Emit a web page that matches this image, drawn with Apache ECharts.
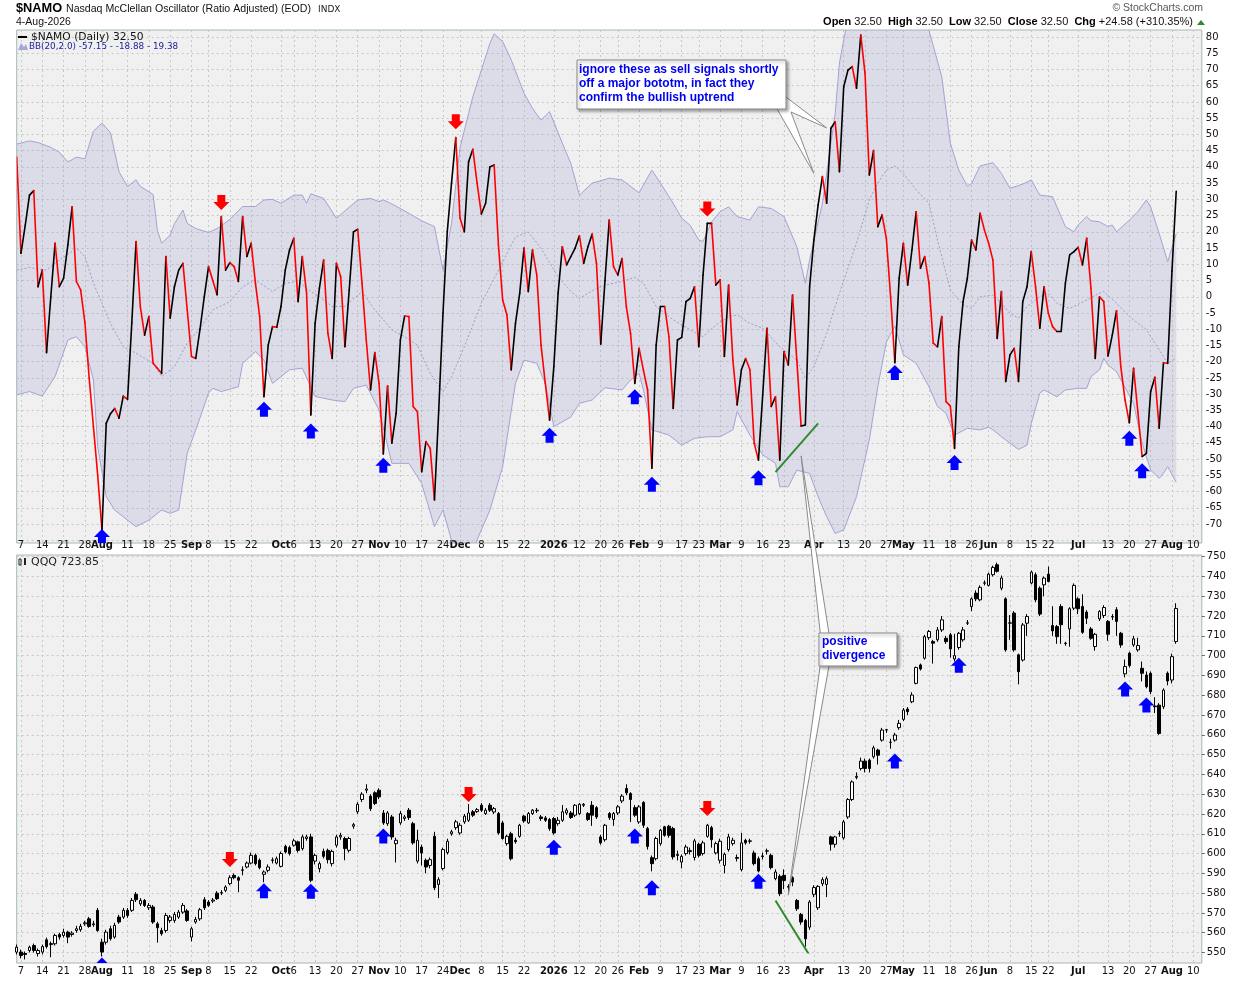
<!DOCTYPE html>
<html>
<head>
<meta charset="utf-8">
<script src="https://cdn.jsdelivr.net/npm/echarts@6/dist/echarts.min.js"></script>
<style>
html, body { margin: 0; padding: 0; background: #fff; }
#chart { width: 1240px; height: 982px; }
</style>
</head>
<body>
<div id="chart"></div>
<script>
// trading days, Jul 3 2025 .. Aug 12 2026 (axis runs a few days past the last bar)
var holidays = ['2025-07-04', '2025-09-01', '2025-11-27', '2025-12-25', '2026-01-01', '2026-01-19',
	'2026-02-16', '2026-04-03', '2026-05-25', '2026-06-19', '2026-07-03'];
var days = [];
var dd = new Date(Date.UTC(2025, 6, 3));
while (dd.getTime() <= Date.UTC(2026, 7, 12)) {
	let wd = dd.getUTCDay();
	let s = dd.toISOString().slice(0, 10);
	if (wd != 0 && wd != 6 && holidays.indexOf(s) < 0) days.push(s);
	dd.setUTCDate(dd.getUTCDate() + 1);
}

var tickDates = ['2025-07-07', '2025-07-14', '2025-07-21', '2025-07-28', '2025-08-01', '2025-08-11', '2025-08-18',
	'2025-08-25', '2025-09-02', '2025-09-08', '2025-09-15', '2025-09-22', '2025-10-01', '2025-10-06', '2025-10-13',
	'2025-10-20', '2025-10-27', '2025-11-03', '2025-11-10', '2025-11-17', '2025-11-24', '2025-12-01', '2025-12-08',
	'2025-12-15', '2025-12-22', '2026-01-02', '2026-01-12', '2026-01-20', '2026-01-26', '2026-02-02', '2026-02-09',
	'2026-02-17', '2026-02-23', '2026-03-02', '2026-03-09', '2026-03-16', '2026-03-23', '2026-04-01', '2026-04-13',
	'2026-04-20', '2026-04-27', '2026-05-01', '2026-05-11', '2026-05-18', '2026-05-26', '2026-06-01', '2026-06-08',
	'2026-06-15', '2026-06-22', '2026-07-01', '2026-07-13', '2026-07-20', '2026-07-27', '2026-08-03', '2026-08-10'];
var tickText = ['7', '14', '21', '28', 'Aug', '11', '18', '25', 'Sep', '8', '15', '22', 'Oct', '6', '13', '20', '27',
	'Nov', '10', '17', '24', 'Dec', '8', '15', '22', '2026', '12', '20', '26', 'Feb', '9', '17', '23', 'Mar', '9', '16',
	'23', 'Apr', '13', '20', '27', 'May', '11', '18', '26', 'Jun', '8', '15', '22', 'Jul', '13', '20', '27', 'Aug', '10'];

// $NAMO daily close (index 0 = Jul 3 2025)
var namo = [
	43, 13.4, 22, 31.3, 32.7, 3.1, 8.2, -17.2, 0, 16.5,
	3.1, 5.7, 16, 27.7, 4.7, 2.1, -8, -25, -40, -55,
	-71.8, -39, -36, -34.4, -37.4, -30.6, -31.6, -8, 17, -3,
	-11.8, -6.1, -20.5, -22, -23.6, 12.4, -6.6, 3.1, 8.2, 10.3,
	-4, -18.4, -19, -10, 0, 9.3, 5, 0.6, 24.7, 8.2,
	10.5, 9.3, 4.7, 24.7, 12.4, 16.5, 4.2, -6.1, -30.8, -14.9,
	-9.2, -9.4, -3, 8.2, 14.4, 18, -1.5, 12.4, 1.1, -36.4,
	-8.2, 2.6, 11.3, -11.3, -19, 10.3, 6.2, -15.4, 2.1, 20,
	20.8, 4.2, -13.3, -28.7, -17.2, -26.7, -48.4, -27.5, -45.1, -35.9,
	-13.3, -5.9, -6.1, -33.8, -35.4, -53.9, -44.6, -46.7, -62.6, -35,
	-5, 20, 35, 49, 24.2, 20, 41.6, 45.4, 35, 25.5,
	28.8, 40, 40.6, 16, -1, -5.6, -22.5, -8.2, 1.1, 15,
	1.6, 14.4, 6.7, -14.9, -26.7, -38, -21.5, 1.1, 15.4, 9.8,
	12.4, 15, 18.8, 10.3, 15.4, 19.3, 10.3, -14.6, 5, 23.6,
	9.3, 6.7, 11.8, -3, -11.3, -26.7, -15.9, -22.5, -28.7, -52.8,
	-14.9, -3, -3, -12.3, -34.4, -13.3, -12.5, -1.5, -0.5, 3.1,
	-15.4, 6.7, 22.6, 22.6, 3.6, 5.2, -18.4, 3.6, -19.5, -33.3,
	-22.5, -19, -22.5, -45.1, -50.3, -30.2, -9.7, -33.8, -30.8, -50.3,
	-16.9, -21, 0.5, -19.5, -39.8, -39.5, 3.1, 17.5, 28.3, 37,
	28.8, 51.9, 53.9, 38.5, 64.7, 69.8, 70.9, 64.2, 80.6, 68.8,
	37.5, 45, 21.6, 25.2, 18, 0, -20.3, 5.7, 16.5, 3.6,
	14.4, 26.2, 8.8, 12.4, 4.2, -14.3, -15.4, -6.1, -32.3, -33.6,
	-46.7, -15.4, -1.5, 5.7, 17.5, 14.4, 25.7, 20.6, 16.5, 11.3,
	-12.8, 1.6, -26.1, -17.9, -15.9, -26.1, -1.5, 3.1, 13.9, 3.1,
	-9.7, 3.1, -5.1, -9.2, -10.7, -10.7, 4.2, 12.9, 13.9, 15.2,
	9.8, 18, 2.6, -19, 0, -1.5, -18.2, -11.8, -4.3, -21.5,
	-31.8, -38.8, -22, -35.4, -49.2, -48.2, -29.2, -24.8, -40.5, -20.3,
	-20.5, 7.9, 32.5
];

// BB(20,2.0) as [day index, value]
var bbUpper = [[0, 47], [3, 48], [5, 47.5], [8, 46], [10, 44.5], [12, 41.5], [14, 43], [16, 42.5], [18, 51], [20, 53.5],
	[22, 50.5], [24, 38.5], [26, 34], [28, 36], [29, 34], [32, 31.5], [33, 20.5], [34, 16.5], [36, 19], [37, 22.5],
	[39, 26.7], [40, 22.6], [42, 21], [45, 19.8], [47, 21], [50, 23.8], [53, 27.8], [56, 27.8], [58, 29.8], [60, 30],
	[62, 28.8], [65, 31.3], [67, 31.3], [68, 28.8], [69, 31.7], [72, 30.3], [75, 24.2], [80, 29.8], [83, 30.3],
	[85, 29.3], [86, 29.8], [88, 28.6], [92, 25.7], [95, 23.4], [98, 21.6], [100, 8.2], [102, 22.6], [104, 46],
	[107, 61.6], [109, 69.8], [111, 78], [112, 81], [114, 78.6], [116, 73], [119, 62.7], [121, 58], [123, 54.4],
	[125, 57], [128, 47.3], [130, 41], [132, 31.3], [135, 35], [139, 36.5], [142, 36], [146, 32], [147, 34.4],
	[149, 39], [151, 35], [154, 28.8], [156, 24.2], [158, 22], [160, 17.5], [161, 17], [163, 23], [165, 26.2],
	[167, 27.7], [169, 24.7], [172, 23.6], [174, 27.7], [177, 27.2], [180, 24.7], [183, 15.4], [185, 4.2],
	[186, 11.3], [189, 28.8], [192, 56.5], [193, 72], [195, 86], [198, 92], [202, 94], [206, 92], [210, 88],
	[214, 82], [217, 67.8], [219, 47.3], [221, 39], [223, 34.1], [224, 34.9], [226, 40.3], [229, 41.3], [231, 38],
	[233, 33.4], [236, 34.7], [238, 36], [240, 31.3], [243, 30.8], [246, 21.6], [248, 20], [249, 22.1], [251, 24.7],
	[252, 23.4], [254, 23.1], [256, 21.6], [257, 22.1], [258, 20], [261, 23.6], [263, 26.2], [265, 29.8], [266, 27.7],
	[268, 19.5], [270, 10.8], [272, 19.38]];
var bbMiddle = [[0, 8.2], [3, 9], [7, 8.2], [10, 11.3], [14, 14.9], [16, 12.4], [18, 4.2], [20, -2], [22, -8.2],
	[25, -15.4], [28, -17.4], [32, -20.5], [34, -24.6], [37, -21.5], [40, -14.3], [43, -9.7], [46, -4], [50, -1.5],
	[53, 3.1], [56, 5.2], [60, 1.6], [63, 4.2], [66, 4.7], [69, 1.6], [71, 0], [74, -3], [77, -3], [81, 1.6], [84, -4],
	[88, -10.2], [91, -12.3], [94, -14.9], [97, -23.6], [100, -29.2], [102, -24.6], [105, -15.4], [109, -2], [113, 8.2],
	[117, 18.4], [120, 20], [123, 14.9], [127, 6.2], [130, 1.6], [132, -0.5], [136, 2.6], [139, 3.9], [142, 4.7],
	[145, 6], [147, 4.2], [150, -3], [154, -7.1], [158, -10.2], [161, -12.3], [164, -8.7], [167, -6.1], [169, -5.6],
	[172, -8.2], [175, -9.7], [179, -15.4], [183, -19.5], [185, -25.1], [187, -21.5], [190, -11.3], [193, 1.1],
	[197, 16.5], [200, 29.8], [202, 35], [204, 39], [206, 40.3], [208, 38], [211, 32.9], [214, 28.8], [216, 17.5],
	[219, 2.1], [222, -2.5], [224, -3.6], [226, 0], [229, 0.5], [231, -2], [233, -5.1], [235, -6.6], [237, -3],
	[240, 0], [242, 1.1], [244, -2], [247, -3.6], [251, -1], [254, 1.1], [255, 1.6], [258, -2], [261, -6.1],
	[265, -10.2], [268, -16.4], [270, -20.5], [272, -18.88]];
var bbLower = [[0, -30.2], [3, -29.2], [6, -30.6], [9, -24.6], [12, -13.3], [14, -12.3], [16, -15.4], [18, -25.6],
	[19, -46.2], [21, -61.6], [23, -65.7], [26, -68.8], [28, -70.8], [31, -68.8], [34, -65.7], [36, -66.7], [38, -65.7],
	[40, -48.2], [42, -41], [45, -29.7], [46, -28.2], [48, -29.2], [52, -27.7], [53, -20.5], [56, -16.9], [58, -19.5],
	[60, -26.7], [62, -24.6], [64, -22.5], [67, -22], [70, -30.7], [74, -31.8], [77, -32.3], [79, -28.2], [82, -27.2],
	[85, -34.9], [88, -51.3], [92, -51.3], [95, -57.5], [98, -70.8], [100, -65.7], [102, -75], [105, -84],
	[109, -71.8], [111, -65.7], [114, -52.3], [117, -26.7], [119, -19.5], [122, -20.5], [124, -26.7], [126, -40],
	[130, -37], [132, -32.8], [135, -31.8], [138, -28], [142, -28.7], [144, -25.6], [146, -23.6], [147, -28.7],
	[149, -41], [153, -42.6], [156, -45.7], [159, -43.6], [162, -43.1], [165, -43.1], [168, -41], [169, -35.4],
	[172, -42.6], [175, -48.7], [178, -51.3], [179, -58.5], [181, -58.5], [183, -53.4], [186, -54.4], [188, -61.6],
	[190, -67.7], [192, -72.9], [194, -71.8], [197, -61.6], [200, -44.1], [202, -27.7], [204, -14], [206, -9],
	[208, -17.9], [211, -20.5], [214, -27.7], [216, -33.8], [218, -35.9], [220, -42.6], [223, -40.5], [226, -41],
	[228, -40.2], [229, -41], [231, -43.1], [233, -45.1], [235, -47], [237, -45.7], [238, -39], [240, -29.7],
	[241, -28.7], [244, -30.8], [246, -28.7], [249, -28.2], [251, -28.2], [252, -24.6], [254, -22.5], [255, -19],
	[256, -21], [258, -23.1], [262, -32.8], [264, -45.1], [266, -53.4], [268, -55.9], [269, -54.4], [270, -52.3],
	[272, -57.15]];

// QQQ daily candles
var qOpen = [
	550.2, 550.2, 549.5, 551, 553.5, 549.5, 550.2, 556.4, 554, 554.4,
	559.1, 558.6, 560.3, 559.1, 561.1, 561.5, 564.5, 567, 564, 571.3,
	555.2, 555.2, 562, 557.8, 567.9, 567.9, 571.3, 571.3, 579.4, 574.6,
	576.3, 572.6, 573, 564.5, 561.1, 561.1, 566.2, 566.2, 567.9, 570.4,
	571, 557.8, 565.4, 567, 576.7, 575.5, 576, 580, 580, 581.4,
	584.8, 589, 587.8, 591.5, 593.2, 595.2, 599.1, 596.6, 589.5, 591.5,
	596.5, 595.2, 593.5, 603.6, 603, 604.2, 605.9, 602.5, 607.6, 608.4,
	596.2, 592.4, 601.1, 601.6, 594.9, 604.2, 608.4, 607.6, 601.6, 613.8,
	621.1, 627.3, 632, 629, 630.7, 632, 620.5, 615.1, 618.5, 605,
	615.5, 617.7, 621.9, 615.1, 596.2, 603.3, 596.6, 594, 608.7, 584.4,
	592.4, 600.5, 610, 613.1, 610.4, 616, 616.8, 621.1, 621.2, 624.4,
	620.2, 624.4, 621, 620.2, 615.5, 605, 610, 606.7, 608.7, 618.9,
	615.5, 620.2, 621.6, 618.5, 618, 617.2, 617.7, 615.1, 616.8, 620.5,
	620.5, 619.4, 620.2, 624.4, 620.2, 624.4, 623.2, 608.4, 607, 620.2,
	617.2, 620.5, 626.6, 632.9, 630.3, 623.2, 616, 625.8, 612.6, 597.9,
	597.4, 605, 613.5, 613.8, 612.6, 599, 595.7, 600, 601, 598,
	604.7, 600, 608.7, 613.1, 600.3, 596.6, 594, 602, 605, 598,
	591.9, 606.7, 606.2, 600.3, 597.4, 598.5, 601.2, 599.1, 587.3, 588.5,
	589, 583, 587.8, 576.3, 569.2, 566.2, 562.8, 579.4, 572.6, 584.8,
	584.4, 608.4, 604.7, 610, 607.9, 618.5, 627.3, 638.5, 643, 646.7,
	647.2, 648.9, 652.3, 657.3, 662.4, 656.2, 657.3, 663.6, 667.8, 673,
	676.7, 686, 695.3, 698.7, 709.1, 707.1, 708, 713, 708.8, 710.5,
	698.3, 704.1, 708, 716.4, 724.8, 731.6, 728.2, 736.6, 735.5, 740.9,
	745.9, 734.1, 728.7, 716.4, 721.5, 700.4, 697.8, 716.4, 736.7, 740.9,
	734.1, 735.8, 741.2, 715.2, 714.7, 724.8, 706.3, 713.5, 724, 728.7,
	724.8, 722, 713.5, 704.6, 718.6, 720.3, 717.3, 719.5, 723.2, 711.3,
	690.8, 701.2, 705.4, 702.9, 693.6, 690.2, 691.1, 674.5, 675, 674.2,
	691.1, 687.7, 707.1
];
var qClose = [
	552.7, 548.5, 549, 552.7, 551, 551, 553, 553, 554.5, 558.6,
	557.8, 560.3, 557.8, 559.8, 562, 563.2, 565, 563.2, 564.5, 561.1,
	550.2, 560.3, 557, 563.7, 565.4, 571.3, 568.7, 576.3, 576.7, 576.3,
	573.8, 573.8, 565.4, 562.5, 559.5, 568.7, 567.9, 569.2, 570.4, 573.8,
	566.2, 562, 566.7, 571.6, 572.6, 573.8, 576.5, 577.2, 580.3, 583.1,
	587.8, 587.8, 586.5, 591.8, 595.2, 599.1, 594.9, 592.9, 590.7, 593.2,
	596.8, 597.4, 600, 600.8, 600, 606.4, 601.6, 608.4, 608.4, 586.5,
	599.1, 594.9, 598.6, 596.9, 601.1, 608.4, 609.2, 602.5, 607.6, 614.6,
	624.9, 630, 632.6, 622.7, 625.3, 628.6, 615.5, 620.5, 608.4, 606.7,
	620.2, 618.5, 618.2, 605.4, 606.7, 600.3, 593.2, 596.9, 582.7, 586.8,
	602, 606.2, 611, 616, 614.3, 618.9, 620.5, 619.4, 622.2, 621.9,
	621.9, 621.9, 622.7, 610.4, 607.6, 608.7, 597.4, 606, 614.3, 616.5,
	620.2, 621.9, 621.9, 617.7, 616.8, 612.6, 610.4, 616.8, 621.1, 621.9,
	618.2, 624.4, 624.9, 624.9, 617.2, 619.4, 618.5, 605.4, 614.3, 618.2,
	620.2, 623.6, 629, 630.7, 627.3, 619.4, 623.6, 614.3, 603.6, 594.9,
	607.6, 611.8, 609.2, 609.2, 598.3, 599.6, 598.6, 603.3, 601.5, 606.4,
	599.1, 605.4, 614.3, 607, 605, 606.2, 599.6, 608.4, 606.7, 597.6,
	605.4, 605.4, 606.4, 594.9, 591.2, 598.8, 601.4, 592.9, 590.7, 579.7,
	586.4, 583.3, 585.6, 572.1, 565.4, 556.9, 575.5, 582.8, 583.4, 586.8,
	587.3, 604.7, 608.4, 610.2, 616, 627.3, 636.2, 639, 646.7, 643,
	643, 653.4, 649.7, 662.4, 662.6, 656.2, 659.9, 665.8, 672.5, 671.7,
	680.1, 694, 693.3, 709.6, 712.2, 706.3, 713, 718.1, 707.1, 703.4,
	700, 711.3, 713, 716.6, 728.7, 728.7, 734.5, 736.8, 741.2, 744.6,
	742.6, 739.2, 702.9, 716.6, 702.9, 691.9, 715.5, 719.8, 742.2, 728.2,
	721, 739.2, 737.5, 712.5, 709.6, 715.6, 706.1, 723.7, 735.5, 723.7,
	711.8, 718.9, 708.8, 710.8, 722.3, 724.3, 710.8, 719.8, 717.3, 705.4,
	694.5, 695, 708.5, 705.1, 691.1, 684.3, 681.8, 674.2, 660.7, 682.6,
	687.2, 699.5, 723.85
];
var qLow = [
	549, 547, 546.5, 550, 550, 548, 549, 552, 547.6, 553.5,
	556.5, 557.5, 554.7, 558, 560, 560.5, 563.5, 562.5, 563, 560.5,
	548, 554, 556, 557, 564.5, 567, 567.5, 570.5, 575.5, 573.5,
	573, 571.5, 564.5, 555, 558.5, 560, 565, 565, 567, 569.5,
	565.5, 555.6, 564.5, 566, 571.5, 573, 575, 576.5, 579, 580.5,
	584, 587, 580.5, 589, 592.5, 594.5, 594, 592, 585.5, 590.5,
	595, 594.5, 593, 600, 599, 603.5, 600.5, 601.5, 606.5, 585.5,
	594.5, 590.5, 597.5, 595, 593.5, 603, 607, 596.6, 600.5, 612.5,
	620, 626, 630.5, 621.5, 624.5, 627.5, 614.5, 614, 607, 595.5,
	614.5, 616.5, 617, 604.5, 595, 594, 590, 592.5, 581.5, 577.5,
	591.5, 599.5, 609, 612, 609.5, 615, 616, 618.5, 620.5, 621,
	619.5, 621, 620, 609.5, 607, 604, 596.5, 605, 608, 615.5,
	615, 619.5, 620.5, 616.5, 616, 611.5, 609.5, 614, 616, 619.5,
	617.5, 618.5, 619.5, 623.5, 616.5, 614, 617.5, 604.5, 606, 617,
	614, 619.5, 625.5, 629.5, 616, 618.5, 615, 613, 602, 591,
	596.5, 604, 608.5, 608, 597, 596.5, 592.5, 599, 599.5, 596.5,
	598, 599, 608, 603, 599.5, 595, 590, 601, 604, 596,
	591, 604.5, 605, 594, 590.5, 597, 599.5, 592, 586.5, 578.5,
	582, 580, 583.5, 571, 564, 553, 561.5, 578, 571.5, 583.5,
	578, 601.5, 603, 608.5, 607, 617.5, 626.5, 637.5, 642, 641,
	641, 648, 645, 656.5, 661, 653, 656.5, 662.5, 667, 670,
	676, 685.5, 692.5, 698, 708, 696, 707, 712, 706, 699,
	697, 703, 707, 715.5, 722.5, 727.5, 727.5, 735.5, 735, 740,
	742, 733, 702, 708, 702, 685.5, 697, 710, 736, 727,
	720, 730, 737, 710, 706, 706, 705, 704.5, 723, 721,
	711, 716, 708, 702.5, 717.5, 719, 707.5, 718, 710, 704,
	689, 694, 704.5, 702, 687, 683.5, 680.5, 671, 660, 673,
	685, 686, 706
];
var qHigh = [
	554, 551.5, 550.5, 553.5, 554.5, 552, 554, 557.5, 555.5, 559.5,
	560, 562, 561, 560.8, 563.5, 564.5, 566, 568, 566, 572.5,
	557, 561.5, 563.5, 565, 569, 572.5, 572.5, 577.5, 580.5, 577.5,
	577, 575, 574, 565.5, 562.5, 570, 569, 570.5, 571.5, 575,
	572, 563, 568, 572.5, 578, 576.5, 577.5, 581, 581.5, 584,
	589, 590, 588.5, 593.5, 596, 600.5, 600, 597.5, 591.5, 594.5,
	598, 598.5, 601, 604.5, 604, 607.5, 606.5, 609.5, 609.5, 610,
	600, 596, 602.5, 602.5, 602, 609.5, 610.5, 608.5, 608.5, 615.5,
	626, 631, 635, 630, 631.5, 633, 622, 621.5, 619.5, 608,
	621.5, 619.5, 623, 616, 612, 604.5, 597.5, 598, 611, 588,
	603, 607.5, 612, 617, 615.5, 620, 625, 622, 623, 625.5,
	623, 625.5, 623.5, 621, 616.5, 609.5, 611, 608, 615, 619.5,
	621, 622.5, 623, 619.5, 619, 618, 618.5, 618.5, 624.5, 623,
	621.5, 625, 625.5, 625.5, 621, 626.5, 624, 609.5, 615, 621,
	621, 624.5, 630, 635, 631, 624.5, 624.5, 626.5, 613.5, 599,
	608.5, 612.5, 614, 614.5, 613.5, 601.5, 599.5, 604.5, 603, 607.5,
	605.5, 606.5, 615, 614, 606, 607.5, 600.5, 610, 608, 599.5,
	610.5, 607.5, 607.5, 601.5, 598.5, 600.5, 602.5, 600, 592, 589.5,
	592, 584.5, 588.5, 577, 570, 567, 576.5, 584, 584, 588,
	588.5, 609, 609, 611.5, 617, 628, 637, 641, 648.5, 648,
	648, 654.5, 653, 663.5, 663, 658, 661, 667.5, 673.5, 674,
	681.5, 694.5, 696, 710.5, 713, 708, 714.5, 720, 710, 711.5,
	711, 712, 714.5, 718, 729.5, 733, 735.5, 738, 742, 745.5,
	747, 740.5, 729.5, 720.5, 722.5, 701, 716.5, 721, 743, 742,
	735, 740, 745, 725, 715.5, 726, 707, 724.5, 736.5, 729.5,
	731, 723, 714.5, 711.5, 723, 725.5, 718, 721, 724.5, 712,
	698, 702, 710, 709, 697, 692, 692, 679, 676, 683.5,
	692, 701, 726.5
];

// signal arrows: [day index, value at arrow tip]
var namoSell = [[48, 26.7], [103, 51.6], [162, 24.7]];
var namoBuy = [[20, -71.5], [58, -32.3], [69, -39], [86, -49.6], [125, -40.3], [145, -28.5], [149, -55.4],
	[174, -53.4], [206, -21], [220, -48.7], [261, -41.3], [264, -51.3]];
var qqqSell = [[50, 593.2], [106, 626.1], [162, 619]];
var qqqBuy = [[20, 547.5], [58, 585], [69, 584.8], [86, 612.6], [126, 607], [145, 612.6], [149, 586.5],
	[174, 589.8], [206, 650.6], [221, 699], [260, 686.9], [265, 678.8]];
var namoTrend = [[178, -54], [188, -39]];
var qqqTrend = [[178, 576.3], [186, 548.5]];

// layout
var L = 16.7, W = 1185.1;
var topFrame = { x: L, y: 30, width: W, height: 513 };
var botFrame = { x: L, y: 555, width: W, height: 408 };
var gridDash = { color: '#c8c8c8', type: [2, 3], width: 1 };
var tickMap = {};
for (let i = 0; i < tickDates.length; i++) tickMap[tickDates[i]] = tickText[i];
var showTick = function(idx, val) { return tickMap[val] !== undefined; };
var fmtTick = function(val) {
	let t = tickMap[val];
	if (t === undefined) return '';
	return isNaN(+t) || t == '2026' ? '{b|' + t + '}' : t;
};
var xLabel = {
	interval: showTick, formatter: fmtTick, fontFamily: 'DejaVu Sans', fontSize: 10, color: '#111',
	rich: { b: { fontWeight: 'bold', fontFamily: 'DejaVu Sans', fontSize: 10, color: '#111' } }
};

function xAxisFor(grid, labels, split, margin) {
	return {
		type: 'category', gridIndex: grid, data: days, boundaryGap: false,
		axisLine: { show: false }, axisTick: { show: false },
		axisLabel: labels ? Object.assign({ margin: margin }, xLabel) : { show: false },
		splitLine: split ? { show: true, interval: showTick, lineStyle: gridDash } : { show: false }
	};
}

function arrows(xi, yi, data, color, down, clip) {
	return {
		type: 'custom', xAxisIndex: xi, yAxisIndex: yi, data: data, encode: { x: 0, y: 1 }, z: 6, silent: true,
		renderItem: function(params, api) {
			let p = api.coord([api.value(0), api.value(1)]);
			let x = p[0], y = p[1], s = down ? -1 : 1;
			let pts = [[x, y], [x + 8, y + 8 * s], [x + 4, y + 8 * s], [x + 4, y + 15 * s], [x - 4, y + 15 * s],
				[x - 4, y + 8 * s], [x - 8, y + 8 * s]];
			return { type: 'polygon', shape: { points: pts }, style: { fill: color }, clipPath: { type: 'rect', shape: clip } };
		}
	};
}

var myChart = echarts.init(document.getElementById('chart'));
var option = {
	animation: false,
	backgroundColor: '#fff',
	grid: [
		{ left: L, width: W, top: 30, height: 513, show: true, backgroundColor: '#f0f0f0', borderColor: '#a6b8b0', borderWidth: 1, z: -1 },
		{ left: L, width: W, top: 37, height: 503.3 },
		{ left: L, width: W, top: 555, height: 408, show: true, backgroundColor: '#f0f0f0', borderColor: '#a6b8b0', borderWidth: 1, z: -1 },
		{ left: L, width: W, top: 556.7, height: 395.8 }
	],
	xAxis: [xAxisFor(0, false, true), xAxisFor(1, true, false, 0.5), xAxisFor(2, true, true, 3.5), xAxisFor(3, false, false)],
	yAxis: [
		{ gridIndex: 0, show: false, min: 0, max: 1 },
		{
			gridIndex: 1, type: 'value', position: 'right', min: -75, max: 80, interval: 5,
			axisLine: { show: false }, axisTick: { show: false },
			axisLabel: { margin: 4, fontFamily: 'DejaVu Sans', fontSize: 10, color: '#111', showMinLabel: false },
			splitLine: { lineStyle: gridDash }
		},
		{ gridIndex: 2, show: false, min: 0, max: 1 },
		{
			gridIndex: 3, type: 'value', position: 'right', min: 550, max: 750, interval: 10,
			axisLine: { show: false }, axisTick: { show: true, length: 3, lineStyle: { color: '#666' } },
			axisLabel: { margin: 5, fontFamily: 'DejaVu Sans', fontSize: 10, color: '#111' },
			splitLine: { lineStyle: gridDash }
		}
	],
	series: [
		{
			// Bollinger band, clipped to the panel frame
			type: 'custom', xAxisIndex: 1, yAxisIndex: 1, data: [[0, 0]], encode: { x: 0, y: 1 }, z: 1, silent: true,
			renderItem: function(params, api) {
				let up = bbUpper.map(function(p) { return api.coord(p); });
				let lo = bbLower.map(function(p) { return api.coord(p); });
				let mid = bbMiddle.map(function(p) { return api.coord(p); });
				return {
					type: 'group', clipPath: { type: 'rect', shape: topFrame },
					children: [
						{ type: 'polygon', shape: { points: up.concat(lo.slice().reverse()) }, style: { fill: 'rgba(140,140,200,0.2)' } },
						{ type: 'polyline', shape: { points: up }, style: { stroke: '#a2a2d4', lineWidth: 1, fill: 'none' } },
						{ type: 'polyline', shape: { points: lo }, style: { stroke: '#a2a2d4', lineWidth: 1, fill: 'none' } },
						{ type: 'polyline', shape: { points: mid }, style: { stroke: '#9a9acc', lineWidth: 1, lineDash: [2, 2], fill: 'none' } }
					]
				};
			}
		},
		{
			// NAMO line, black on up days and red on down days
			type: 'custom', xAxisIndex: 1, yAxisIndex: 1, z: 3, silent: true,
			data: namo.map(function(v, i) { return [i, v]; }), encode: { x: 0, y: 1 },
			renderItem: function(params, api) {
				let i = params.dataIndex;
				if (i === 0) return null;
				let p0 = api.coord([i - 1, namo[i - 1]]);
				let p1 = api.coord([i, namo[i]]);
				return {
					type: 'line', shape: { x1: p0[0], y1: p0[1], x2: p1[0], y2: p1[1] },
					style: { stroke: namo[i] >= namo[i - 1] ? '#000' : '#f00', lineWidth: 1.6, lineCap: 'round' },
					clipPath: { type: 'rect', shape: topFrame }
				};
			}
		},
		{
			type: 'line', xAxisIndex: 1, yAxisIndex: 1, data: namoTrend, symbol: 'none', z: 4, silent: true,
			lineStyle: { color: '#2f8a2f', width: 2 }
		},
		arrows(1, 1, namoSell, '#ff0000', true, topFrame),
		arrows(1, 1, namoBuy, '#0000ff', false, topFrame),
		{
			type: 'candlestick', xAxisIndex: 3, yAxisIndex: 3, barWidth: 3, clip: false, z: 3, silent: true,
			data: qOpen.map(function(o, i) { return [o, qClose[i], qLow[i], qHigh[i]]; }),
			itemStyle: { color: '#fff', color0: '#000', borderColor: '#000', borderColor0: '#000', borderWidth: 1 }
		},
		{
			type: 'line', xAxisIndex: 3, yAxisIndex: 3, data: qqqTrend, symbol: 'none', z: 4, silent: true,
			lineStyle: { color: '#2f8a2f', width: 2 }
		},
		arrows(3, 3, qqqSell, '#ff0000', true, botFrame),
		arrows(3, 3, qqqBuy, '#0000ff', false, botFrame)
	]
};
myChart.setOption(option);

// headers, legends and the two callouts
var px = function(grid, p) { return myChart.convertToPixel({ gridIndex: grid }, p); };
var t1 = px(1, [190, 52]), t2 = px(1, [187, 38]);
var t3 = px(1, [184, -49]), t4 = px(3, [181, 579]);
var boxText = { font: 'bold 12px "Liberation Sans"', fill: '#0000ee', verticalAlign: 'middle' };
var tail = { fill: '#fff', stroke: '#8a8a8a', lineWidth: 1 };
var shadow = { shadowBlur: 3, shadowOffsetX: 2, shadowOffsetY: 2, shadowColor: 'rgba(0,0,0,0.35)' };
var graphics = [
	{ type: 'text', left: 16, top: 2, style: { text: '$NAMO', font: 'bold 12.8px "Liberation Sans"', fill: '#000' } },
	{ type: 'text', left: 66, top: 4, style: { text: 'Nasdaq McClellan Oscillator (Ratio Adjusted) (EOD)', font: '10.6px "Liberation Sans"', fill: '#111' } },
	{ type: 'text', left: 318, top: 5, style: { text: 'INDX', font: '9px "DejaVu Sans"', fill: '#222' } },
	{ type: 'text', left: 16, top: 17, style: { text: '4-Aug-2026', font: '10.5px "Liberation Sans"', fill: '#111' } },
	{ type: 'text', right: 37, top: 3, style: { text: '\u00a9 StockCharts.com', font: '10.5px "Liberation Sans"', fill: '#555' } },
	{
		type: 'text', right: 47, top: 16,
		style: {
			text: '{b|Open} 32.50  {b|High} 32.50  {b|Low} 32.50  {b|Close} 32.50  {b|Chg} +24.58 (+310.35%)',
			font: '11px "Liberation Sans"', fill: '#111',
			rich: { b: { font: 'bold 11px "Liberation Sans"', fill: '#000' } }
		}
	},
	{ type: 'polygon', shape: { points: [[1197, 25], [1205, 25], [1201, 20]] }, style: { fill: '#2e8b2e' } },
	{ type: 'rect', shape: { x: 18, y: 36, width: 9, height: 2 }, style: { fill: '#000' } },
	{ type: 'text', x: 31, y: 37, style: { text: '$NAMO (Daily) 32.50', font: '10.7px "DejaVu Sans"', fill: '#111', verticalAlign: 'middle' } },
	{ type: 'polygon', shape: { points: [[18, 50], [21, 43], [24, 47], [26, 44], [28, 50]] }, style: { fill: '#a8a8d8' } },
	{ type: 'text', x: 29, y: 46.5, style: { text: 'BB(20,2.0) -57.15 - -18.88 - 19.38', font: '8.8px "DejaVu Sans"', fill: '#1a1a99', verticalAlign: 'middle' } },
	{ type: 'rect', shape: { x: 19, y: 559, width: 2, height: 6 }, style: { fill: '#fff', stroke: '#222', lineWidth: 1 } },
	{ type: 'rect', shape: { x: 24, y: 558, width: 2, height: 7 }, style: { fill: '#222' } },
	{ type: 'text', x: 31, y: 562, style: { text: 'QQQ 723.85', font: '11px "DejaVu Sans"', fill: '#222', verticalAlign: 'middle' } },
	// callout 1
	{ type: 'polygon', z: 20, shape: { points: [[782, 94], t1, [791, 112], t2, [776, 107]] }, style: tail },
	{ type: 'rect', z: 21, shape: { x: 577, y: 60, width: 209, height: 49 }, style: Object.assign({ fill: '#fff', stroke: '#8a8a8a', lineWidth: 1 }, shadow) },
	{ type: 'text', z: 22, x: 579, y: 70, style: Object.assign({ text: 'ignore these as sell signals shortly' }, boxText) },
	{ type: 'text', z: 22, x: 579, y: 84, style: Object.assign({ text: 'off a major bototm, in fact they' }, boxText) },
	{ type: 'text', z: 22, x: 579, y: 98, style: Object.assign({ text: 'confirm the bullish uptrend' }, boxText) },
	// callout 2
	{ type: 'polygon', z: 20, shape: { points: [[821, 640], t3, [830, 640]] }, style: tail },
	{ type: 'polygon', z: 20, shape: { points: [[821, 660], t4, [830, 660]] }, style: tail },
	{ type: 'rect', z: 21, shape: { x: 819, y: 633, width: 78, height: 33 }, style: Object.assign({ fill: '#fff', stroke: '#8a8a8a', lineWidth: 1 }, shadow) },
	{ type: 'text', z: 22, x: 822, y: 642, style: Object.assign({ text: 'positive' }, boxText) },
	{ type: 'text', z: 22, x: 822, y: 656, style: Object.assign({ text: 'divergence' }, boxText) }
];
myChart.setOption({ graphic: graphics });
</script>
</body>
</html>
